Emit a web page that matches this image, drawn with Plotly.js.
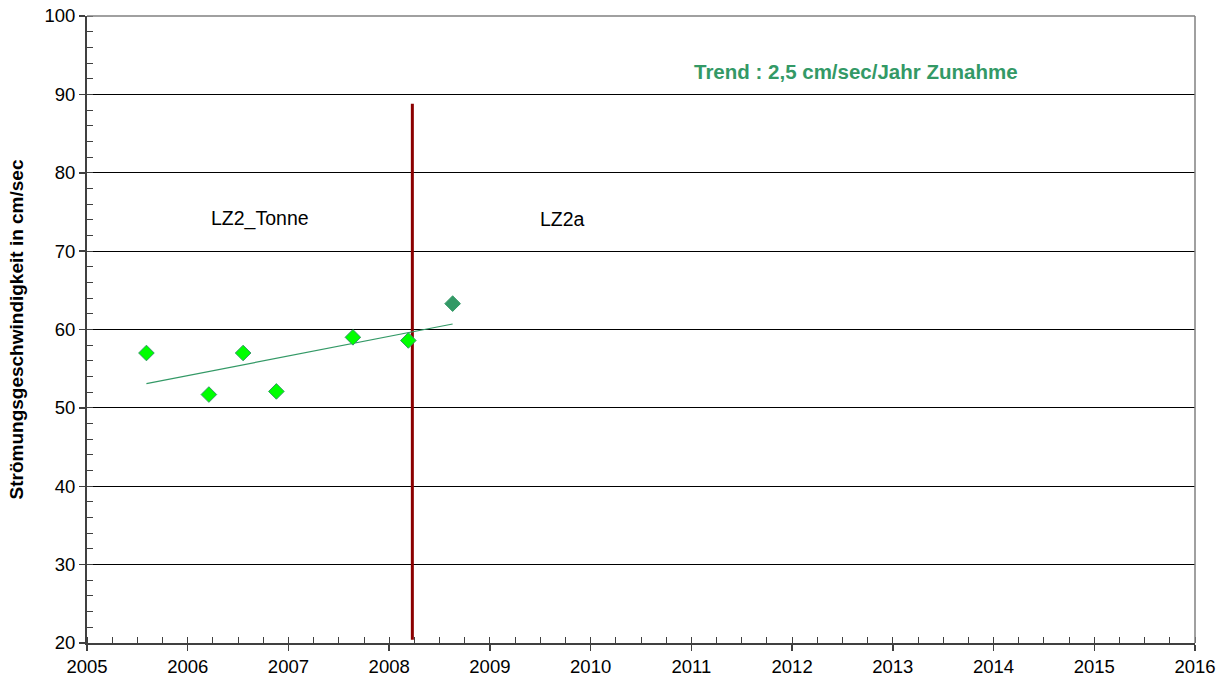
<!DOCTYPE html>
<html>
<head>
<meta charset="utf-8">
<script src="https://cdn.plot.ly/plotly-3.0.1.min.js"></script>
<style>html,body{margin:0;padding:0;background:#fff;}#chart{width:1229px;height:686px;}</style>
</head>
<body>
<div id="chart"></div>
<script>
// Data
const tonneDates = [2005.59, 2006.21, 2006.55, 2006.88, 2007.64, 2008.19];
const tonneValues = [57.0, 51.7, 57.0, 52.1, 59.0, 58.6];
const lz2aDates = [2008.63];
const lz2aValues = [63.3];
const trendX = [2005.59, 2008.63];
const trendY = [53.1, 60.7];
const switchX = [2008.23, 2008.23];
const switchY = [88.8, 20.4];
const yTicks = [20, 30, 40, 50, 60, 70, 80, 90, 100];
const xTicks = [2005, 2006, 2007, 2008, 2009, 2010, 2011, 2012, 2013, 2014, 2015, 2016];
const labelTonne = "LZ2_Tonne";
const labelLZ2a = "LZ2a";
const trendText = "Trend : 2,5 cm/sec/Jahr Zunahme";
const yTitle = "Strömungsgeschwindigkeit in cm/sec";

const FONT = 'Liberation Sans, Arial, sans-serif';

const traces = [
  {x: switchX, y: switchY, mode: 'lines', line: {color: '#8B0000', width: 3}, hoverinfo: 'skip'},
  {x: trendX, y: trendY, mode: 'lines', line: {color: '#339966', width: 1.2}},
  {x: tonneDates, y: tonneValues, mode: 'markers',
   marker: {symbol: 'diamond', size: 12, color: '#00FF00', line: {color: '#339966', width: 1}}},
  {x: lz2aDates, y: lz2aValues, mode: 'markers',
   marker: {symbol: 'diamond', size: 12, color: '#339966', line: {color: '#339966', width: 1}}}
];

const layout = {
  width: 1229, height: 686,
  margin: {l: 87, r: 34, t: 16, b: 43},
  paper_bgcolor: '#fff', plot_bgcolor: '#fff',
  showlegend: false,
  font: {family: FONT, size: 18, color: '#000'},
  xaxis: {
    range: [2005, 2016], tickvals: xTicks, ticktext: xTicks.map(String),
    showgrid: false, zeroline: false,
    showline: true, linecolor: '#404040', linewidth: 2,
    ticks: 'outside', ticklen: 6, tickcolor: '#404040', tickwidth: 1.5,
    tickfont: {size: 18.5},
    minor: {dtick: 0.25, tick0: 2005, ticks: 'inside', ticklen: 6, tickcolor: '#404040', tickwidth: 1, showgrid: false},
    fixedrange: true
  },
  yaxis: {
    range: [20, 100], tickvals: yTicks, ticktext: yTicks.map(String),
    showgrid: true, gridcolor: '#000', gridwidth: 1,
    zeroline: false,
    showline: true, linecolor: '#404040', linewidth: 2,
    ticks: 'outside', ticklen: 6, tickcolor: '#404040', tickwidth: 1.5,
    tickfont: {size: 18.5},
    minor: {dtick: 2, tick0: 20, ticks: 'inside', ticklen: 6, tickcolor: '#404040', tickwidth: 1, showgrid: false},
    title: {text: yTitle, font: {size: 19, family: FONT, weight: 'bold'}, standoff: 16},
    fixedrange: true
  },
  shapes: [
    {type: 'line', xref: 'paper', yref: 'paper', x0: 0, x1: 1, y0: 1, y1: 1, line: {color: '#808080', width: 1.5}},
    {type: 'line', xref: 'paper', yref: 'paper', x0: 1, x1: 1, y0: 0, y1: 1, line: {color: '#808080', width: 1.5}}
  ],
  annotations: [
    {x: 2006.72, y: 74.1, text: labelTonne, showarrow: false, font: {size: 19.5}},
    {x: 2009.72, y: 74.1, text: labelLZ2a, showarrow: false, font: {size: 19.5}},
    {x: 2012.63, y: 92.9, text: '<b>' + trendText + '</b>', showarrow: false, font: {size: 20.5, color: '#339966'}}
  ]
};

Plotly.newPlot('chart', traces, layout, {displayModeBar: false, staticPlot: true});
</script>
</body>
</html>
